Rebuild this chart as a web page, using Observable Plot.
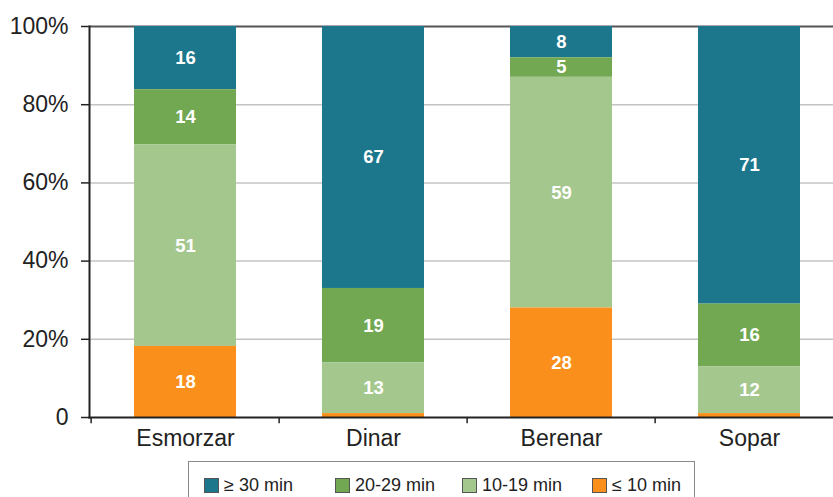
<!DOCTYPE html>
<html>
<head>
<meta charset="utf-8">
<script src="https://cdn.jsdelivr.net/npm/d3@7"></script>
<script src="https://cdn.jsdelivr.net/npm/@observablehq/plot@0.6"></script>
<style>
  html, body { margin: 0; padding: 0; background: #fff; }
  body { width: 833px; height: 497px; position: relative; overflow: hidden;
         font-family: "Liberation Sans", Arial, sans-serif; color: #222; }
  #chart { position: absolute; left: 0; top: 0; }
  #legend { position: absolute; left: 188px; top: 461px; width: 507px; height: 44px;
            border: 1px solid #8a8a8a; box-sizing: border-box; }
  .item { position: absolute; top: 14px; display: flex; align-items: center;
          font-size: 18px; line-height: 18px; color: #222; white-space: nowrap; }
  .sw { width: 13px; height: 13px; border: 1px solid #555; margin-right: 5px; }
</style>
</head>
<body>
<div id="chart"></div>
<div id="legend"></div>
<script>
// Meals and time bands
const meals = ["Esmorzar", "Dinar", "Berenar", "Sopar"];
const bands = ["≥ 30 min", "20-29 min", "10-19 min", "≤ 10 min"];
const bandColors = ["#1c768c", "#71a851", "#a4c78e", "#fa8f1b"];

// Share of people (%) per meal, one array per time band
const over30 = [16, 67, 8, 71];
const from20to29 = [14, 19, 5, 16];
const from10to19 = [51, 13, 59, 12];
const upTo10 = [18, 1, 28, 1];

const yTicks = [0, 0.2, 0.4, 0.6, 0.8, 1];

const series = [over30, from20to29, from10to19, upTo10];
const rows = [];
bands.forEach((b, i) => meals.forEach((m, j) => rows.push({meal: m, band: b, value: series[i][j]})));

// stack from the shortest band at the bottom up to the longest on top
const stackOrder = bands.slice().reverse();

const step = (844 - 89) / meals.length;
const labelFont = "'Liberation Sans Narrow', 'Arial Narrow', 'Liberation Sans', sans-serif";

const chart = Plot.plot({
  width: 833,
  height: 455,
  marginTop: 26,
  marginBottom: 38,
  marginLeft: 89,
  marginRight: 0,
  style: {fontFamily: "'Liberation Sans', Arial, sans-serif", color: "#222", background: "#fff"},
  x: {domain: meals, range: [89, 844], paddingInner: 0.46, paddingOuter: 0.23, label: null},
  y: {domain: [0, 1], label: null},
  color: {domain: bands, range: bandColors},
  marks: [
    Plot.ruleY([0.2, 0.4, 0.6, 0.8], {stroke: "#c4c4c4", strokeWidth: 1.5}),
    Plot.ruleY([1], {stroke: "#555", strokeWidth: 2}),
    Plot.barY(rows, {x: "meal", y: "value", fill: "band", order: stackOrder, offset: "normalize"}),
    Plot.text(rows, Plot.stackY({
      x: "meal", y: "value", z: "band", order: stackOrder, offset: "normalize",
      text: d => d.value >= 2 ? String(d.value) : "",
      fill: "white", fontWeight: "bold", fontSize: 18.5, fontFamily: labelFont
    })),
    Plot.axisY({ticks: yTicks, tickFormat: d => d === 0 ? "0" : Math.round(d * 100) + "%",
                tickSize: 8, tickPadding: 13, fontSize: 23, stroke: "#222", strokeWidth: 1.5, label: null}),
    Plot.axisX({tickSize: 0, tickPadding: 12, fontSize: 23, label: null}),
    // tick marks on the boundaries between meals
    Plot.ruleX(meals, {x: d => d, y1: 0, y2: -0.016, dx: -step / 2, stroke: "#222", strokeWidth: 1.5}),
    Plot.frame({anchor: "left", stroke: "#222", strokeWidth: 2}),
    Plot.frame({anchor: "bottom", stroke: "#222", strokeWidth: 2})
  ]
});
document.getElementById("chart").appendChild(chart);

// legend below the chart
const legend = document.getElementById("legend");
const itemLeft = [15, 146, 273, 403];
bands.forEach((b, i) => {
  const it = document.createElement("div");
  it.className = "item";
  it.style.left = itemLeft[i] + "px";
  const sw = document.createElement("div");
  sw.className = "sw";
  sw.style.background = bandColors[i];
  const t = document.createElement("span");
  t.textContent = b;
  it.appendChild(sw);
  it.appendChild(t);
  legend.appendChild(it);
});
</script>
</body>
</html>
